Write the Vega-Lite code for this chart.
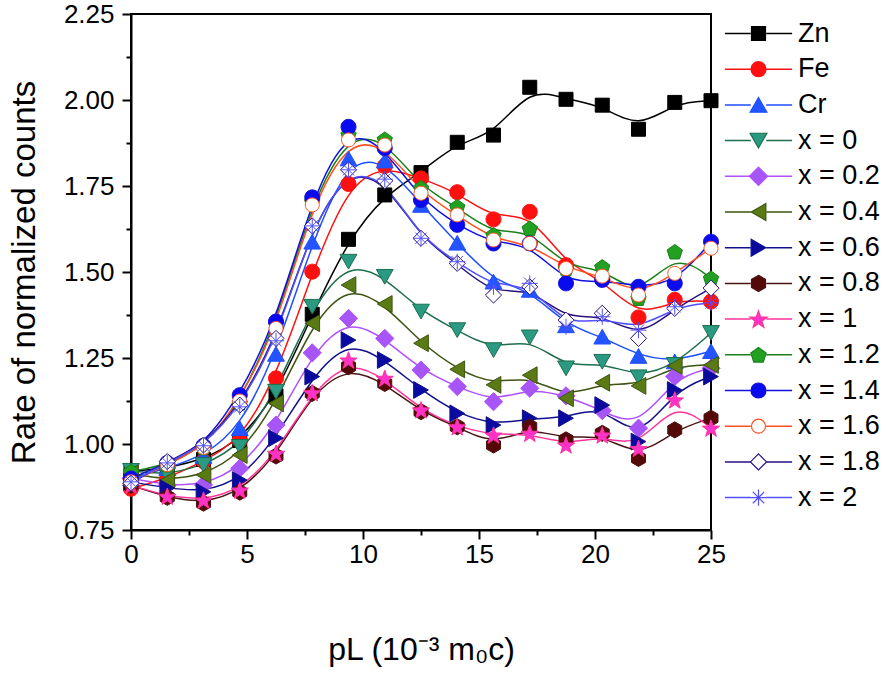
{
"$schema":"https://vega.github.io/schema/vega-lite/v6.json",
"width":580,"height":516,
"autosize":"none",
"padding":{"left":131,"top":14,"right":175,"bottom":158},
"background":"white",
"config":{
 "font":"Liberation Sans",
 "view":{"stroke":"black","strokeWidth":2},
 "axis":{"domainColor":"black","domainWidth":2,"tickColor":"black","tickWidth":2,"labelColor":"black","titleColor":"black","labelFont":"Liberation Sans","titleFont":"Liberation Sans","grid":false,"labelFontSize":26,"titleFontWeight":"normal","labelOverlap":false,"labelFlush":false}
},
"data":{"values":[
{"series":"Zn","p":0,"rate":0.92},{"series":"Zn","p":1.5625,"rate":0.93},{"series":"Zn","p":3.125,"rate":0.955},{"series":"Zn","p":4.6875,"rate":1.01},{"series":"Zn","p":6.25,"rate":1.14},{"series":"Zn","p":7.8125,"rate":1.377},{"series":"Zn","p":9.375,"rate":1.595},{"series":"Zn","p":10.9375,"rate":1.724},{"series":"Zn","p":12.5,"rate":1.789},{"series":"Zn","p":14.0625,"rate":1.877},{"series":"Zn","p":15.625,"rate":1.898},{"series":"Zn","p":17.1875,"rate":2.037},{"series":"Zn","p":18.75,"rate":2.002},{"series":"Zn","p":20.3125,"rate":1.985},{"series":"Zn","p":21.875,"rate":1.915},{"series":"Zn","p":23.4375,"rate":1.993},{"series":"Zn","p":25,"rate":1.998},
{"series":"Fe","p":0,"rate":0.87},{"series":"Fe","p":1.5625,"rate":0.9},{"series":"Fe","p":3.125,"rate":0.95},{"series":"Fe","p":4.6875,"rate":1.01},{"series":"Fe","p":6.25,"rate":1.191},{"series":"Fe","p":7.8125,"rate":1.501},{"series":"Fe","p":9.375,"rate":1.756},{"series":"Fe","p":10.9375,"rate":1.808},{"series":"Fe","p":12.5,"rate":1.772},{"series":"Fe","p":14.0625,"rate":1.732},{"series":"Fe","p":15.625,"rate":1.653},{"series":"Fe","p":17.1875,"rate":1.675},{"series":"Fe","p":18.75,"rate":1.52},{"series":"Fe","p":20.3125,"rate":1.48},{"series":"Fe","p":21.875,"rate":1.368},{"series":"Fe","p":23.4375,"rate":1.419},{"series":"Fe","p":25,"rate":1.414},
{"series":"Cr","p":0,"rate":0.9},{"series":"Cr","p":1.5625,"rate":0.93},{"series":"Cr","p":3.125,"rate":0.965},{"series":"Cr","p":4.6875,"rate":1.046},{"series":"Cr","p":6.25,"rate":1.262},{"series":"Cr","p":7.8125,"rate":1.588},{"series":"Cr","p":9.375,"rate":1.83},{"series":"Cr","p":10.9375,"rate":1.824},{"series":"Cr","p":12.5,"rate":1.695},{"series":"Cr","p":14.0625,"rate":1.585},{"series":"Cr","p":15.625,"rate":1.472},{"series":"Cr","p":17.1875,"rate":1.448},{"series":"Cr","p":18.75,"rate":1.345},{"series":"Cr","p":20.3125,"rate":1.312},{"series":"Cr","p":21.875,"rate":1.256},{"series":"Cr","p":23.4375,"rate":1.24},{"series":"Cr","p":25,"rate":1.27},
{"series":"x = 0","p":0,"rate":0.922},{"series":"x = 0","p":1.5625,"rate":0.91},{"series":"x = 0","p":3.125,"rate":0.939},{"series":"x = 0","p":4.6875,"rate":0.992},{"series":"x = 0","p":6.25,"rate":1.152},{"series":"x = 0","p":7.8125,"rate":1.399},{"series":"x = 0","p":9.375,"rate":1.53},{"series":"x = 0","p":10.9375,"rate":1.486},{"series":"x = 0","p":12.5,"rate":1.385},{"series":"x = 0","p":14.0625,"rate":1.331},{"series":"x = 0","p":15.625,"rate":1.273},{"series":"x = 0","p":17.1875,"rate":1.31},{"series":"x = 0","p":18.75,"rate":1.22},{"series":"x = 0","p":20.3125,"rate":1.239},{"series":"x = 0","p":21.875,"rate":1.194},{"series":"x = 0","p":23.4375,"rate":1.23},{"series":"x = 0","p":25,"rate":1.323},
{"series":"x = 0.2","p":0,"rate":0.9},{"series":"x = 0.2","p":1.5625,"rate":0.88},{"series":"x = 0.2","p":3.125,"rate":0.881},{"series":"x = 0.2","p":4.6875,"rate":0.929},{"series":"x = 0.2","p":6.25,"rate":1.055},{"series":"x = 0.2","p":7.8125,"rate":1.265},{"series":"x = 0.2","p":9.375,"rate":1.365},{"series":"x = 0.2","p":10.9375,"rate":1.307},{"series":"x = 0.2","p":12.5,"rate":1.215},{"series":"x = 0.2","p":14.0625,"rate":1.167},{"series":"x = 0.2","p":15.625,"rate":1.123},{"series":"x = 0.2","p":17.1875,"rate":1.162},{"series":"x = 0.2","p":18.75,"rate":1.14},{"series":"x = 0.2","p":20.3125,"rate":1.097},{"series":"x = 0.2","p":21.875,"rate":1.046},{"series":"x = 0.2","p":23.4375,"rate":1.196},{"series":"x = 0.2","p":25,"rate":1.22},
{"series":"x = 0.4","p":0,"rate":0.915},{"series":"x = 0.4","p":1.5625,"rate":0.895},{"series":"x = 0.4","p":3.125,"rate":0.91},{"series":"x = 0.4","p":4.6875,"rate":0.968},{"series":"x = 0.4","p":6.25,"rate":1.118},{"series":"x = 0.4","p":7.8125,"rate":1.351},{"series":"x = 0.4","p":9.375,"rate":1.462},{"series":"x = 0.4","p":10.9375,"rate":1.407},{"series":"x = 0.4","p":12.5,"rate":1.293},{"series":"x = 0.4","p":14.0625,"rate":1.217},{"series":"x = 0.4","p":15.625,"rate":1.172},{"series":"x = 0.4","p":17.1875,"rate":1.2},{"series":"x = 0.4","p":18.75,"rate":1.133},{"series":"x = 0.4","p":20.3125,"rate":1.178},{"series":"x = 0.4","p":21.875,"rate":1.169},{"series":"x = 0.4","p":23.4375,"rate":1.227},{"series":"x = 0.4","p":25,"rate":1.23},
{"series":"x = 0.6","p":0,"rate":0.89},{"series":"x = 0.6","p":1.5625,"rate":0.872},{"series":"x = 0.6","p":3.125,"rate":0.861},{"series":"x = 0.6","p":4.6875,"rate":0.895},{"series":"x = 0.6","p":6.25,"rate":1.017},{"series":"x = 0.6","p":7.8125,"rate":1.196},{"series":"x = 0.6","p":9.375,"rate":1.302},{"series":"x = 0.6","p":10.9375,"rate":1.244},{"series":"x = 0.6","p":12.5,"rate":1.157},{"series":"x = 0.6","p":14.0625,"rate":1.089},{"series":"x = 0.6","p":15.625,"rate":1.055},{"series":"x = 0.6","p":17.1875,"rate":1.075},{"series":"x = 0.6","p":18.75,"rate":1.075},{"series":"x = 0.6","p":20.3125,"rate":1.113},{"series":"x = 0.6","p":21.875,"rate":1.007},{"series":"x = 0.6","p":23.4375,"rate":1.157},{"series":"x = 0.6","p":25,"rate":1.196},
{"series":"x = 0.8","p":0,"rate":0.88},{"series":"x = 0.8","p":1.5625,"rate":0.845},{"series":"x = 0.8","p":3.125,"rate":0.828},{"series":"x = 0.8","p":4.6875,"rate":0.86},{"series":"x = 0.8","p":6.25,"rate":0.965},{"series":"x = 0.8","p":7.8125,"rate":1.147},{"series":"x = 0.8","p":9.375,"rate":1.225},{"series":"x = 0.8","p":10.9375,"rate":1.176},{"series":"x = 0.8","p":12.5,"rate":1.094},{"series":"x = 0.8","p":14.0625,"rate":1.05},{"series":"x = 0.8","p":15.625,"rate":0.997},{"series":"x = 0.8","p":17.1875,"rate":1.05},{"series":"x = 0.8","p":18.75,"rate":1.012},{"series":"x = 0.8","p":20.3125,"rate":1.031},{"series":"x = 0.8","p":21.875,"rate":0.958},{"series":"x = 0.8","p":23.4375,"rate":1.041},{"series":"x = 0.8","p":25,"rate":1.075},
{"series":"x = 1","p":0,"rate":0.88},{"series":"x = 1","p":1.5625,"rate":0.848},{"series":"x = 1","p":3.125,"rate":0.837},{"series":"x = 1","p":4.6875,"rate":0.866},{"series":"x = 1","p":6.25,"rate":0.973},{"series":"x = 1","p":7.8125,"rate":1.149},{"series":"x = 1","p":9.375,"rate":1.244},{"series":"x = 1","p":10.9375,"rate":1.191},{"series":"x = 1","p":12.5,"rate":1.099},{"series":"x = 1","p":14.0625,"rate":1.05},{"series":"x = 1","p":15.625,"rate":1.026},{"series":"x = 1","p":17.1875,"rate":1.031},{"series":"x = 1","p":18.75,"rate":0.997},{"series":"x = 1","p":20.3125,"rate":1.026},{"series":"x = 1","p":21.875,"rate":0.987},{"series":"x = 1","p":23.4375,"rate":1.128},{"series":"x = 1","p":25,"rate":1.046},
{"series":"x = 1.2","p":0,"rate":0.92},{"series":"x = 1.2","p":1.5625,"rate":0.94},{"series":"x = 1.2","p":3.125,"rate":0.99},{"series":"x = 1.2","p":4.6875,"rate":1.12},{"series":"x = 1.2","p":6.25,"rate":1.35},{"series":"x = 1.2","p":7.8125,"rate":1.705},{"series":"x = 1.2","p":9.375,"rate":1.9},{"series":"x = 1.2","p":10.9375,"rate":1.886},{"series":"x = 1.2","p":12.5,"rate":1.745},{"series":"x = 1.2","p":14.0625,"rate":1.69},{"series":"x = 1.2","p":15.625,"rate":1.608},{"series":"x = 1.2","p":17.1875,"rate":1.627},{"series":"x = 1.2","p":18.75,"rate":1.51},{"series":"x = 1.2","p":20.3125,"rate":1.515},{"series":"x = 1.2","p":21.875,"rate":1.424},{"series":"x = 1.2","p":23.4375,"rate":1.559},{"series":"x = 1.2","p":25,"rate":1.482},
{"series":"x = 1.4","p":0,"rate":0.9},{"series":"x = 1.4","p":1.5625,"rate":0.945},{"series":"x = 1.4","p":3.125,"rate":0.995},{"series":"x = 1.4","p":4.6875,"rate":1.142},{"series":"x = 1.4","p":6.25,"rate":1.356},{"series":"x = 1.4","p":7.8125,"rate":1.717},{"series":"x = 1.4","p":9.375,"rate":1.922},{"series":"x = 1.4","p":10.9375,"rate":1.86},{"series":"x = 1.4","p":12.5,"rate":1.709},{"series":"x = 1.4","p":14.0625,"rate":1.637},{"series":"x = 1.4","p":15.625,"rate":1.583},{"series":"x = 1.4","p":17.1875,"rate":1.583},{"series":"x = 1.4","p":18.75,"rate":1.467},{"series":"x = 1.4","p":20.3125,"rate":1.477},{"series":"x = 1.4","p":21.875,"rate":1.457},{"series":"x = 1.4","p":23.4375,"rate":1.467},{"series":"x = 1.4","p":25,"rate":1.588},
{"series":"x = 1.6","p":0,"rate":0.89},{"series":"x = 1.6","p":1.5625,"rate":0.94},{"series":"x = 1.6","p":3.125,"rate":0.99},{"series":"x = 1.6","p":4.6875,"rate":1.125},{"series":"x = 1.6","p":6.25,"rate":1.336},{"series":"x = 1.6","p":7.8125,"rate":1.695},{"series":"x = 1.6","p":9.375,"rate":1.884},{"series":"x = 1.6","p":10.9375,"rate":1.869},{"series":"x = 1.6","p":12.5,"rate":1.729},{"series":"x = 1.6","p":14.0625,"rate":1.666},{"series":"x = 1.6","p":15.625,"rate":1.593},{"series":"x = 1.6","p":17.1875,"rate":1.583},{"series":"x = 1.6","p":18.75,"rate":1.51},{"series":"x = 1.6","p":20.3125,"rate":1.488},{"series":"x = 1.6","p":21.875,"rate":1.433},{"series":"x = 1.6","p":23.4375,"rate":1.496},{"series":"x = 1.6","p":25,"rate":1.569},
{"series":"x = 1.8","p":0,"rate":0.886},{"series":"x = 1.8","p":1.5625,"rate":0.949},{"series":"x = 1.8","p":3.125,"rate":0.997},{"series":"x = 1.8","p":4.6875,"rate":1.113},{"series":"x = 1.8","p":6.25,"rate":1.307},{"series":"x = 1.8","p":7.8125,"rate":1.634},{"series":"x = 1.8","p":9.375,"rate":1.797},{"series":"x = 1.8","p":10.9375,"rate":1.765},{"series":"x = 1.8","p":12.5,"rate":1.598},{"series":"x = 1.8","p":14.0625,"rate":1.525},{"series":"x = 1.8","p":15.625,"rate":1.433},{"series":"x = 1.8","p":17.1875,"rate":1.457},{"series":"x = 1.8","p":18.75,"rate":1.36},{"series":"x = 1.8","p":20.3125,"rate":1.38},{"series":"x = 1.8","p":21.875,"rate":1.307},{"series":"x = 1.8","p":23.4375,"rate":1.394},{"series":"x = 1.8","p":25,"rate":1.453},
{"series":"x = 2","p":0,"rate":0.89},{"series":"x = 2","p":1.5625,"rate":0.945},{"series":"x = 2","p":3.125,"rate":0.995},{"series":"x = 2","p":4.6875,"rate":1.108},{"series":"x = 2","p":6.25,"rate":1.3},{"series":"x = 2","p":7.8125,"rate":1.634},{"series":"x = 2","p":9.375,"rate":1.797},{"series":"x = 2","p":10.9375,"rate":1.77},{"series":"x = 2","p":12.5,"rate":1.598},{"series":"x = 2","p":14.0625,"rate":1.53},{"series":"x = 2","p":15.625,"rate":1.457},{"series":"x = 2","p":17.1875,"rate":1.467},{"series":"x = 2","p":18.75,"rate":1.341},{"series":"x = 2","p":20.3125,"rate":1.37},{"series":"x = 2","p":21.875,"rate":1.331},{"series":"x = 2","p":23.4375,"rate":1.399},{"series":"x = 2","p":25,"rate":1.41}
]},
"encoding":{
 "x":{"field":"p","type":"quantitative","scale":{"domain":[0,25],"nice":false,"zero":false},
  "axis":{"values":[0,2.5,5,7.5,10,12.5,15,17.5,20,22.5,25],"labelExpr":"datum.value % 5 === 0 ? datum.label : ''","tickSize":{"condition":{"test":"datum.value % 5 === 0","value":9},"value":5},"labelPadding":2,"title":"pL (10⁻³ m₀c)","titleFontSize":32,"titlePadding":67}},
 "y":{"field":"rate","type":"quantitative","scale":{"domain":[0.75,2.25],"nice":false,"zero":false},
  "axis":{"values":[0.75,0.875,1,1.125,1.25,1.375,1.5,1.625,1.75,1.875,2,2.125,2.25],"labelExpr":"(datum.value*4) % 1 === 0 ? format(datum.value,'.2f') : ''","tickSize":{"condition":{"test":"(datum.value*4) % 1 === 0","value":9},"value":5},"labelPadding":8,"title":"Rate of normalized counts","titleFontSize":33,"titlePadding":22}}
},
"layer":[
 {"mark":{"type":"line","interpolate":"basis","strokeWidth":1.5},
  "encoding":{
   "color":{"field":"series","type":"nominal",
    "sort":["Zn","Fe","Cr","x = 0","x = 0.2","x = 0.4","x = 0.6","x = 0.8","x = 1","x = 1.2","x = 1.4","x = 1.6","x = 1.8","x = 2"],
    "scale":{"range":["#000000","#ff1010","#1f4fff","#1e6e4e","#b050ff","#3e5412","#10108a","#4a1414","#ff3399","#1a801a","#1010dd","#ff5020","#2a1080","#5050ff"]},
    "legend":{"title":null,"orient":"none","legendX":614,"legendY":6,"padding":0,"labelFont":"Liberation Sans","labelFontSize":27,"labelColor":"black","labelOpacity":0,"labelOffset":26,"rowPadding":7.7,"symbolSize":196,"symbolStrokeWidth":1.5,"symbolType":"M-4.8,0L-1.1,0M1.1,0L4.8,0","labelLimit":200}}
  }},
 {"mark":{"type":"point","size":196,"strokeWidth":1,"opacity":1},
  "encoding":{
   "stroke":{"field":"series","type":"nominal",
    "scale":{"domain":["Zn","Fe","Cr","x = 0","x = 0.2","x = 0.4","x = 0.6","x = 0.8","x = 1","x = 1.2","x = 1.4","x = 1.6","x = 1.8","x = 2"],
     "range":["#000000","#ff1010","#1f4fff","#1e6e4e","#b050ff","#3e5412","#10108a","#4a1414","#ff3399","#1a801a","#1010dd","#ff5020","#2a1080","#5050ff"]}},
   "shape":{"field":"series","type":"nominal",
    "scale":{"domain":["Zn","Fe","Cr","x = 0","x = 0.2","x = 0.4","x = 0.6","x = 0.8","x = 1","x = 1.2","x = 1.4","x = 1.6","x = 1.8","x = 2"],
     "range":[
      "M-1,-1L1,-1L1,1L-1,1Z",
      "M1.07,0A1.07,1.07,0,1,1,-1.07,0A1.07,1.07,0,1,1,1.07,0Z",
      "M0,-1.05L1.2,1.05L-1.2,1.05Z",
      "M0,1.05L1.2,-1.05L-1.2,-1.05Z",
      "M0,-1.3L1.3,0L0,1.3L-1.3,0Z",
      "M-1.05,0L1.05,-1.2L1.05,1.2Z",
      "M1.05,0L-1.05,-1.2L-1.05,1.2Z",
      "M0,-1.15L1,-0.575L1,0.575L0,1.15L-1,0.575L-1,-0.575Z",
      "M0,-1.18L0.306,-0.3L1.236,-0.28L0.495,0.28L0.764,1.17L0,0.64L-0.764,1.17L-0.495,0.28L-1.236,-0.28L-0.306,-0.3Z",
      "M0,-1.04L1.094,-0.245L0.676,1.04L-0.676,1.04L-1.094,-0.245Z",
      "M1.07,0A1.07,1.07,0,1,1,-1.07,0A1.07,1.07,0,1,1,1.07,0Z",
      "M1,0A1,1,0,1,1,-1,0A1,1,0,1,1,1,0Z",
      "M0,-1.15L1.15,0L0,1.15L-1.15,0Z",
      "M0,-1.15L0,1.15M-1.15,0L1.15,0M-0.81,-0.81L0.81,0.81M-0.81,0.81L0.81,-0.81"]}},
   "fill":{"field":"series","type":"nominal",
    "scale":{"domain":["Zn","Fe","Cr","x = 0","x = 0.2","x = 0.4","x = 0.6","x = 0.8","x = 1","x = 1.2","x = 1.4","x = 1.6","x = 1.8","x = 2"],
     "range":["#000000","#ff1010","#2255ff","#2a9a82","#a855f7","#5a7a14","#0a0aa0","#550808","#ff33cc","#22a022","#0a0aee","#ffffff","#ffffff","transparent"]},
    "legend":{"title":null,"orient":"none","legendX":614,"legendY":6,"padding":0,"labelFont":"Liberation Sans","labelFontSize":27,"labelColor":"black","labelOffset":26,"rowPadding":7.7,"symbolSize":196,"symbolStrokeWidth":1.2,"symbolOpacity":1,"labelLimit":200}}
  }}
]
}
